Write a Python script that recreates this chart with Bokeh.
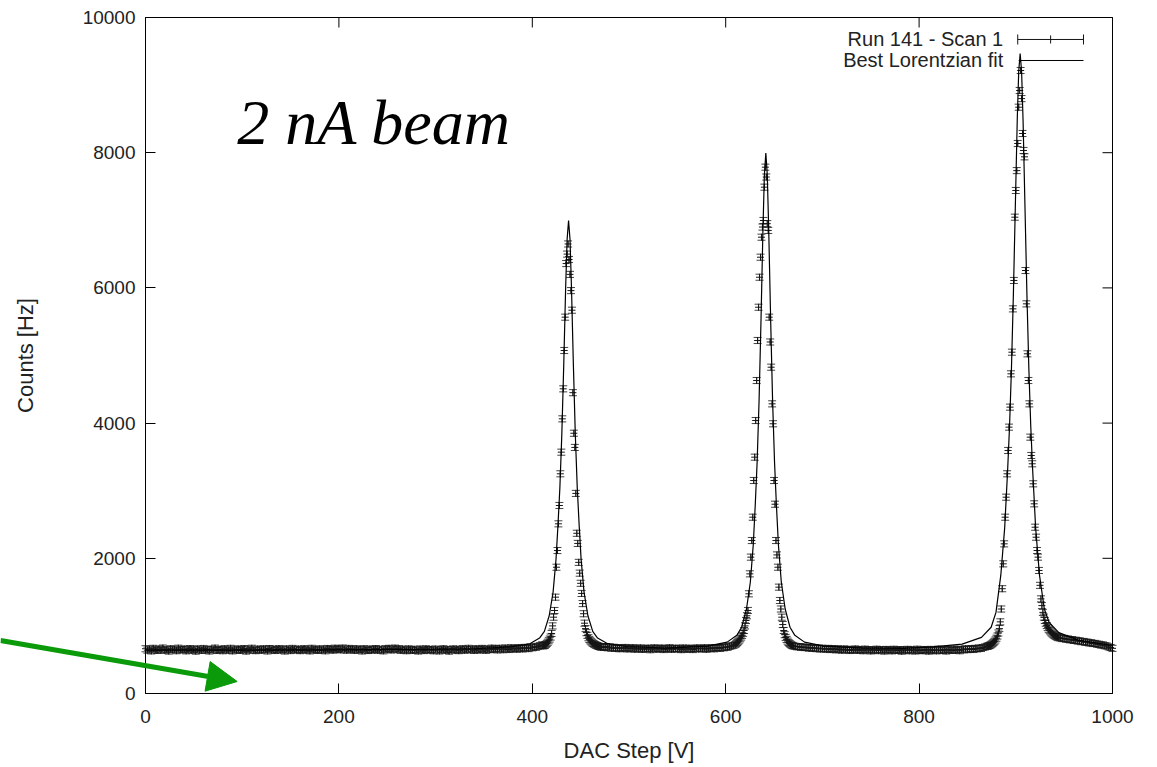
import math
from bokeh.plotting import figure
from bokeh.models import (Range1d, LinearAxis, FixedTicker, Whisker, ColumnDataSource,
                          Arrow, NormalHead, TeeHead, Label)
from bokeh.embed import file_html
from bokeh.resources import INLINE

# ---------------- data ----------------
x_ticks = [0, 200, 400, 600, 800, 1000]
y_ticks = [0, 2000, 4000, 6000, 8000, 10000]

# baseline segments (every 2 DAC steps)
base1_dac = list(range(0, 411, 2))
base1_counts = [662, 641, 655, 630, 668, 648, 637, 659, 645, 672,
                640, 652, 628, 661, 646, 655, 633, 670, 644, 650,
                659, 631, 648, 664, 639, 653, 627, 660, 646, 638,
                666, 642, 651, 629, 657, 645, 671, 636, 649, 655,
                633, 662, 647, 640, 668, 631, 654, 643, 659, 637,
                650, 664, 628, 656, 641, 669, 645, 634, 658, 648,
                639, 661, 652, 630, 665, 644, 657, 636, 649, 663,
                641, 654, 629, 660, 647, 635, 667, 651, 642, 658,
                634, 649, 662, 640, 656, 631, 668, 645, 653, 637,
                660, 643, 655, 632, 666, 649, 658, 641, 670, 652,
                663, 645, 672, 656, 640, 667, 650, 659, 638, 661,
                644, 653, 630, 662, 647, 636, 658, 642, 651, 665,
                639, 655, 646, 631, 663, 650, 668, 644, 657, 671,
                648, 662, 639, 656, 645, 633, 660, 649, 637, 654,
                642, 629, 658, 646, 635, 661, 650, 640, 653, 632,
                657, 644, 630, 649, 662, 638, 652, 627, 646, 659,
                641, 655, 634, 648, 663, 640, 651, 668, 645, 656,
                638, 662, 650, 643, 667, 654, 639, 660, 648, 671,
                652, 664, 645, 669, 657, 648, 673, 660, 651, 676,
                662, 670, 655, 678, 666, 659, 682, 671, 664, 688,
                676, 690, 684, 698, 707, 720]

peak1_dac = list(range(411, 472))
peak1_counts = [705, 708, 712, 725, 740, 758, 780, 805, 835, 888,
                1000, 1129, 1228, 1425, 1868, 2115, 2510, 2781, 3250, 3570,
                4063, 4507, 5074, 5567, 6360, 6500, 6650, 6420, 6200, 5960,
                5670, 4450, 3850, 3640, 2960, 2370, 2220, 1940, 1780, 1630,
                1480, 1330, 1180, 1040, 960, 900, 860, 825, 800, 780,
                765, 750, 740, 730, 722, 715, 708, 702, 697, 692, 688]

base2_dac = list(range(472, 611, 2))
base2_counts = [690, 681, 694, 676, 688, 670, 684, 667, 679, 662,
                675, 668, 681, 659, 672, 664, 677, 655, 669, 661,
                674, 652, 667, 660, 671, 648, 663, 675, 656, 668,
                659, 672, 650, 666, 661, 677, 653, 664, 670, 657,
                668, 649, 673, 660, 655, 671, 662, 650, 667, 674,
                658, 669, 663, 676, 654, 670, 665, 678, 661, 673,
                680, 668, 684, 676, 690, 683, 697, 705, 712, 724]

peak2_dac = list(range(611, 671))
peak2_counts = [740, 755, 772, 790, 810, 835, 860, 890, 932, 1000,
                1080, 1150, 1228, 1475, 1770, 2017, 2263, 2608, 3151, 3496,
                4038, 4630, 5222, 5714, 6158, 6454, 6750, 6900, 6997, 7490,
                7786, 7640, 6950, 6850, 5567, 5200, 4827, 4285, 3990, 3151,
                2800, 2263, 2050, 1868, 1573, 1376, 1250, 1129, 1020, 932,
                870, 830, 800, 775, 755, 740, 728, 718, 710, 703]

base3_dac = list(range(672, 871, 2))
base3_counts = [698, 690, 694, 683, 688, 679, 684, 671, 680, 668,
                675, 663, 672, 658, 669, 661, 655, 667, 650, 663,
                657, 646, 661, 652, 640, 658, 647, 655, 636, 650,
                644, 659, 638, 651, 645, 633, 656, 642, 649, 630,
                647, 639, 655, 634, 650, 643, 628, 652, 640, 646,
                631, 654, 642, 637, 650, 626, 645, 639, 653, 632,
                648, 641, 629, 655, 637, 646, 633, 651, 640, 627,
                652, 638, 645, 631, 656, 642, 636, 649, 629, 653,
                644, 637, 658, 641, 650, 633, 655, 646, 661, 649,
                657, 664, 651, 668, 660, 673, 666, 680, 688, 697]

peak3_dac = list(range(871, 945))
peak3_counts = [700, 705, 712, 720, 730, 742, 756, 772, 792, 818,
                850, 895, 960, 1060, 1250, 1550, 1918, 2214, 2608, 2904,
                3250, 3595, 3940, 4236, 4729, 5049, 5690, 6110, 7046, 7441,
                7735, 8136, 8673, 8920, 9216, 8800, 8284, 8033, 7939, 6257,
                5764, 5025, 4630, 4285, 3792, 3521, 3398, 3102, 2806, 2460,
                2312, 2115, 2017, 1820, 1600, 1400, 1300, 1200, 1130, 1080,
                1040, 1005, 975, 950, 930, 912, 896, 882, 870, 860,
                850, 842, 834, 826]

base4_dac = list(range(946, 1001, 2))
base4_counts = [822, 812, 815, 803, 806, 794, 798, 785, 788, 776,
                779, 766, 770, 757, 760, 747, 751, 739, 741, 730,
                728, 717, 719, 707, 703, 690, 680, 668]

count_err = 45

# best Lorentzian fit curve
fit_dac = [0, 100, 200, 300, 340,
           377.5, 397.5, 407.5, 412.5, 417.5,
           421.5, 424.5, 426.5, 428.5, 430.5,
           432.5, 434.5, 436, 437.5, 439,
           440.5, 442.5, 444.5, 446.5, 448.5,
           450.5, 453.5, 457.5, 462.5, 467.5,
           477.5, 497.5, 537.5, 581.5, 601.5,
           611.5, 616.5, 621.5, 625.5, 628.5,
           630.5, 632.5, 634.5, 636.5, 638.5,
           640, 641.5, 643, 644.5, 646.5,
           648.5, 650.5, 652.5, 654.5, 657.5,
           661.5, 666.5, 671.5, 681.5, 701.5,
           741.5, 784.5, 814.5, 844.5, 864.5, 874.5,
           879.5, 884.5, 888.5, 891.5, 893.5,
           895.5, 897.5, 899.5, 901.5, 903,
           904.5, 906, 907.5, 909.5, 911.5,
           913.5, 915.5, 917.5, 920.5, 924.5,
           929.5, 934.5, 944.5, 964.5, 984.5, 1000]
fit_counts = [641, 642, 646, 655, 662,
              690, 735, 820, 920, 1150,
              1500, 1980, 2477, 3040, 3822,
              4852, 6011, 6718, 6997, 6718,
              6013, 4854, 3824, 3042, 2479,
              1980, 1500, 1150, 920, 820,
              740, 695, 672, 700, 760,
              860, 980, 1250, 1650, 2200,
              2771, 3422, 4326, 5517, 6857,
              7674, 7996, 7674, 6857, 5517,
              4326, 3422, 2771, 2200, 1650,
              1250, 980, 860, 760, 700,
              670, 668, 690, 730, 830, 980,
              1200, 1750, 2450, 3287, 3942,
              4804, 5901, 7198, 8488, 9199,
              9465, 9199, 8488, 7198, 5901,
              4804, 3942, 3287, 2450, 1750,
              1250, 1050, 900, 790, 745, 710]

series_labels = ["Run 141 - Scan 1", "Best Lorentzian fit"]
x_title = "DAC Step [V]"
y_title = "Counts [Hz]"
annotation_text = "2 nA beam"

# ---------------- layout: frame covers the whole canvas ----------------
FW, FH = 1150, 765          # canvas/frame size in px
PX_L, PX_R = 145, 1112      # where DAC 0 and 1000 fall
PY_T, PY_B = 17, 693        # where 10000 and 0 counts fall
XMIN, XMAX = 0, 1000
YMIN, YMAX = 0, 10000
sx = (XMAX - XMIN) / (PX_R - PX_L)     # data units per px
sy = (YMAX - YMIN) / (PY_B - PY_T)
X0 = XMIN - PX_L * sx
X1 = XMIN + (FW - PX_L) * sx
Y1 = YMAX + PY_T * sy
Y0 = YMIN - (FH - PY_B) * sy

# ---------------- build ----------------
dac = base1_dac + peak1_dac + base2_dac + peak2_dac + base3_dac + peak3_dac + base4_dac
counts = (base1_counts + peak1_counts + base2_counts + peak2_counts +
          base3_counts + peak3_counts + base4_counts)
src = ColumnDataSource(dict(
    dac=dac, counts=counts,
    upper=[c + count_err for c in counts],
    lower=[c - count_err for c in counts],
))

FONT = "Liberation Sans"
TXT = "#222222"
INK = "#151515"

p = figure(frame_width=FW, frame_height=FH,
           min_border_left=0, min_border_top=0, min_border_right=0, min_border_bottom=0,
           x_range=Range1d(X0, X1), y_range=Range1d(Y0, Y1),
           output_backend="svg", toolbar_location=None)
p.grid.visible = False
p.outline_line_color = None
p.background_fill_color = "white"
p.border_fill_color = "white"

xa = p.xaxis[0]
ya = p.yaxis[0]
xa.ticker = FixedTicker(ticks=x_ticks)
ya.ticker = FixedTicker(ticks=y_ticks)
xa.bounds = (XMIN, XMAX)
ya.bounds = (YMIN, YMAX)
xa.fixed_location = YMIN
ya.fixed_location = XMIN
for ax in (xa, ya):
    ax.major_tick_in = 10
    ax.major_tick_out = 0
    ax.minor_tick_line_color = None
    ax.axis_line_color = "black"
    ax.major_tick_line_color = "black"
    ax.major_label_text_font = FONT
    ax.major_label_text_font_size = "19px"
    ax.major_label_text_color = TXT
xa.major_label_standoff = 16
ya.major_label_standoff = 10

# top and right border lines
top = LinearAxis(ticker=FixedTicker(ticks=[]), bounds=(XMIN, XMAX), fixed_location=YMAX,
                 axis_line_color="black", major_tick_line_color=None, minor_tick_line_color=None)
right = LinearAxis(ticker=FixedTicker(ticks=[]), bounds=(YMIN, YMAX), fixed_location=XMAX,
                   axis_line_color="black", major_tick_line_color=None, minor_tick_line_color=None)
p.add_layout(top, "above")
p.add_layout(right, "right")

# mirrored ticks (gnuplot style), 10 px long
tick_dy = 10 * sy
tick_dx = 10 * sx
p.segment(x0=x_ticks, y0=[YMAX] * len(x_ticks), x1=x_ticks, y1=[YMAX - tick_dy] * len(x_ticks),
          line_color="black", line_width=1)
p.segment(x0=[XMAX] * len(y_ticks), y0=y_ticks, x1=[XMAX - tick_dx] * len(y_ticks), y1=y_ticks,
          line_color="black", line_width=1)

# axis titles
p.add_layout(Label(x=(XMIN + XMAX) / 2, y=YMIN - 57 * sy, text=x_title, text_align="center",
                   text_baseline="middle", text_font=FONT, text_font_size="22px", text_color=TXT))
p.add_layout(Label(x=XMIN - 120 * sx, y=(YMIN + YMAX) / 2, text=y_title, text_align="center",
                   text_baseline="middle", angle=math.pi / 2, text_font=FONT,
                   text_font_size="22px", text_color=TXT))

# data with error bars
whisk = Whisker(source=src, base="dac", upper="upper", lower="lower", dimension="height",
                line_color=INK, line_width=1, line_alpha=0.8,
                upper_head=TeeHead(size=8, line_color=INK, line_alpha=0.8),
                lower_head=TeeHead(size=8, line_color=INK, line_alpha=0.8))
p.add_layout(whisk)
p.scatter("dac", "counts", source=src, marker="cross", size=7, line_color=INK, line_width=1)

# fit line
p.line(fit_dac, fit_counts, line_color="black", line_width=1.2)

# legend (gnuplot style: text left of sample)
leg_x_text = 887
leg_y = [9675, 9364]
for lbl, yy in zip(series_labels, leg_y):
    p.add_layout(Label(x=leg_x_text, y=yy, text=lbl, text_align="right", text_baseline="middle",
                       text_font=FONT, text_font_size="20px", text_color=TXT))
p.add_layout(Arrow(x_start=902, y_start=leg_y[0], x_end=970, y_end=leg_y[0],
                   start=TeeHead(size=10, line_color=INK), end=TeeHead(size=10, line_color=INK),
                   line_color=INK, line_width=1))
p.add_layout(Arrow(x_start=936, y_start=leg_y[0] - 60, x_end=936, y_end=leg_y[0] + 60,
                   start=None, end=None, line_color=INK, line_width=1))
p.add_layout(Arrow(x_start=903, y_start=leg_y[1], x_end=970, y_end=leg_y[1],
                   start=None, end=None, line_color="black", line_width=1))

# annotation text
p.add_layout(Label(x=95, y=8447, text=annotation_text, text_font="Liberation Serif",
                   text_font_style="italic", text_font_size="64px", text_color="black",
                   text_baseline="alphabetic"))

# green arrow
GREEN = "#0a9a0a"
p.add_layout(Arrow(x_start=X0, y_start=784, x_end=94.8, y_end=177.5,
                   line_color=GREEN, line_width=5,
                   end=NormalHead(size=30, fill_color=GREEN, line_color=GREEN)))

open("out.html", "w").write(file_html(p, INLINE))
